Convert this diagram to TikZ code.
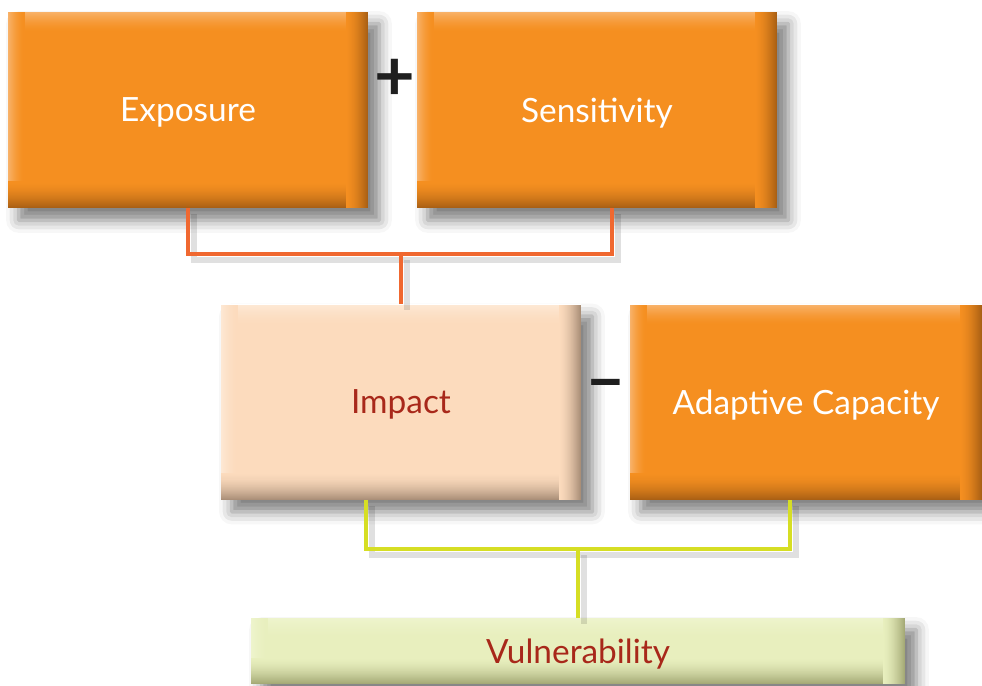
\documentclass[tikz,border=0pt]{standalone}
\usepackage{fontspec}
\setmainfont{Lato}
\usetikzlibrary{shadows.blur, backgrounds}

\definecolor{boxorange}{RGB}{245,143,32}
\definecolor{boxorangedark}{RGB}{170,96,20}
\definecolor{boxorangelight}{RGB}{248,178,105}
\definecolor{boxpeach}{RGB}{252,219,189}
\definecolor{boxpeachdark}{RGB}{170,143,120}
\definecolor{boxpeachlight}{RGB}{253,232,212}
\definecolor{boxlime}{RGB}{232,239,190}
\definecolor{boxlimedark}{RGB}{165,170,118}
\definecolor{boxlimelight}{RGB}{238,244,205}
\definecolor{textred}{RGB}{168,40,26}
\definecolor{lineorange}{RGB}{240,104,48}
\definecolor{lineyellow}{RGB}{214,222,36}

\tikzset{
	bevel/.style n args={3}{
		fill=#1, text depth=0pt,
		path picture={
			% light top and left edges
			\foreach \i in {1,...,20}{
				\pgfmathtruncatemacro\mix{100*(1-(\i-1)/20)^1.6}
				\fill[#3!\mix!#1] ([yshift={-(\i-1)*0.02cm}]path picture bounding box.north west)
					rectangle ([yshift={-(\i+0.5)*0.02cm}]path picture bounding box.north east);
			}
			\foreach \i in {1,...,16}{
				\pgfmathtruncatemacro\mix{100*(1-(\i-1)/16)^1.6}
				\fill[#3!\mix!#1] ([xshift={(\i-1)*0.02cm}]path picture bounding box.north west)
					rectangle ([xshift={(\i+0.5)*0.02cm}]path picture bounding box.south west);
			}
			% dark bottom and right edges
			\foreach \i in {1,...,26}{
				\pgfmathtruncatemacro\mix{100*(1-(\i-1)/26)^1.6}
				\fill[#2!\mix!#1] ([yshift={(\i-1)*0.02cm}]path picture bounding box.south west)
					rectangle ([yshift={(\i+0.5)*0.02cm}]path picture bounding box.south east);
			}
			\foreach \i in {1,...,22}{
				\pgfmathtruncatemacro\mix{100*(1-(\i-1)/22)^1.6}
				\fill[#2!\mix!#1] ([xshift={-(\i-1)*0.02cm}]path picture bounding box.north east)
					rectangle ([xshift={-(\i+0.5)*0.02cm}]path picture bounding box.south east);
			}
		}},
	hazard/.style={bevel={boxorange}{boxorangedark}{boxorangelight},
		text=white, font=\fontsize{19}{22}\selectfont},
	impactbox/.style={bevel={boxpeach}{boxpeachdark}{boxpeachlight},
		text=textred, font=\fontsize{19}{22}\selectfont},
	resultbox/.style={bevel={boxlime}{boxlimedark}{boxlimelight},
		text=textred, font=\fontsize{19}{22}\selectfont},
	boxshadow/.style={fill=white, blur shadow={shadow xshift=0.22cm, shadow yshift=-0.24cm,
		shadow blur radius=0.25cm, shadow opacity=50}},
	link/.style={line width=2.3pt,
		preaction={draw=black, opacity=0.12, line width=3.5pt,
			transform canvas={shift={(0.12,-0.12)}}}},
	sign/.style={text=black!88, font=\bfseries\fontsize{40}{42}\selectfont}
}

\begin{document}
\begin{tikzpicture}
	\useasboundingbox (0,0) rectangle (19.64,-13.72);

	% top row
	\draw (3.76,-2.2) node[hazard, minimum width=7.2cm, minimum height=3.92cm] (expo) {Exposure};
	\draw (11.94,-2.2) node[hazard, minimum width=7.2cm, minimum height=3.92cm] (sens) {Sensitivity};
	\node[sign] (plus) at (7.9,-1.6) {+};

	% middle row
	\draw (8.02,-8.04) node[impactbox, minimum width=7.2cm, minimum height=3.9cm] (imp) {Impact};
	\draw (16.12,-8.04) node[hazard, minimum width=7.04cm, minimum height=3.9cm] (adap) {Adaptive Capacity};
	\node[sign] (minus) at (12.12,-7.82) {–};

	% bottom
	\draw (11.56,-13.02) node[resultbox, minimum width=13.08cm, minimum height=1.32cm] (vul) {Vulnerability};

	% connectors
	\draw[link, lineorange] (expo.south) -- ++(0,-0.92) coordinate (jl)
		-| ([xshift=0.3cm]sens.south);
	\draw[link, lineorange] (imp.north) -- (imp.north |- jl);
	\draw[link, lineyellow] ([xshift=-0.7cm]imp.south) -- ++(0,-0.98) coordinate (jr)
		-| ([xshift=-0.32cm]adap.south);
	\draw[link, lineyellow] (vul.north) -- (vul.north |- jr);

	% shadows behind the boxes
	\begin{pgfonlayer}{background}
		\foreach \n in {expo,sens,imp,adap,vul}
			\path[boxshadow] (\n.south west) rectangle (\n.north east);
	\end{pgfonlayer}
\end{tikzpicture}
\end{document}
